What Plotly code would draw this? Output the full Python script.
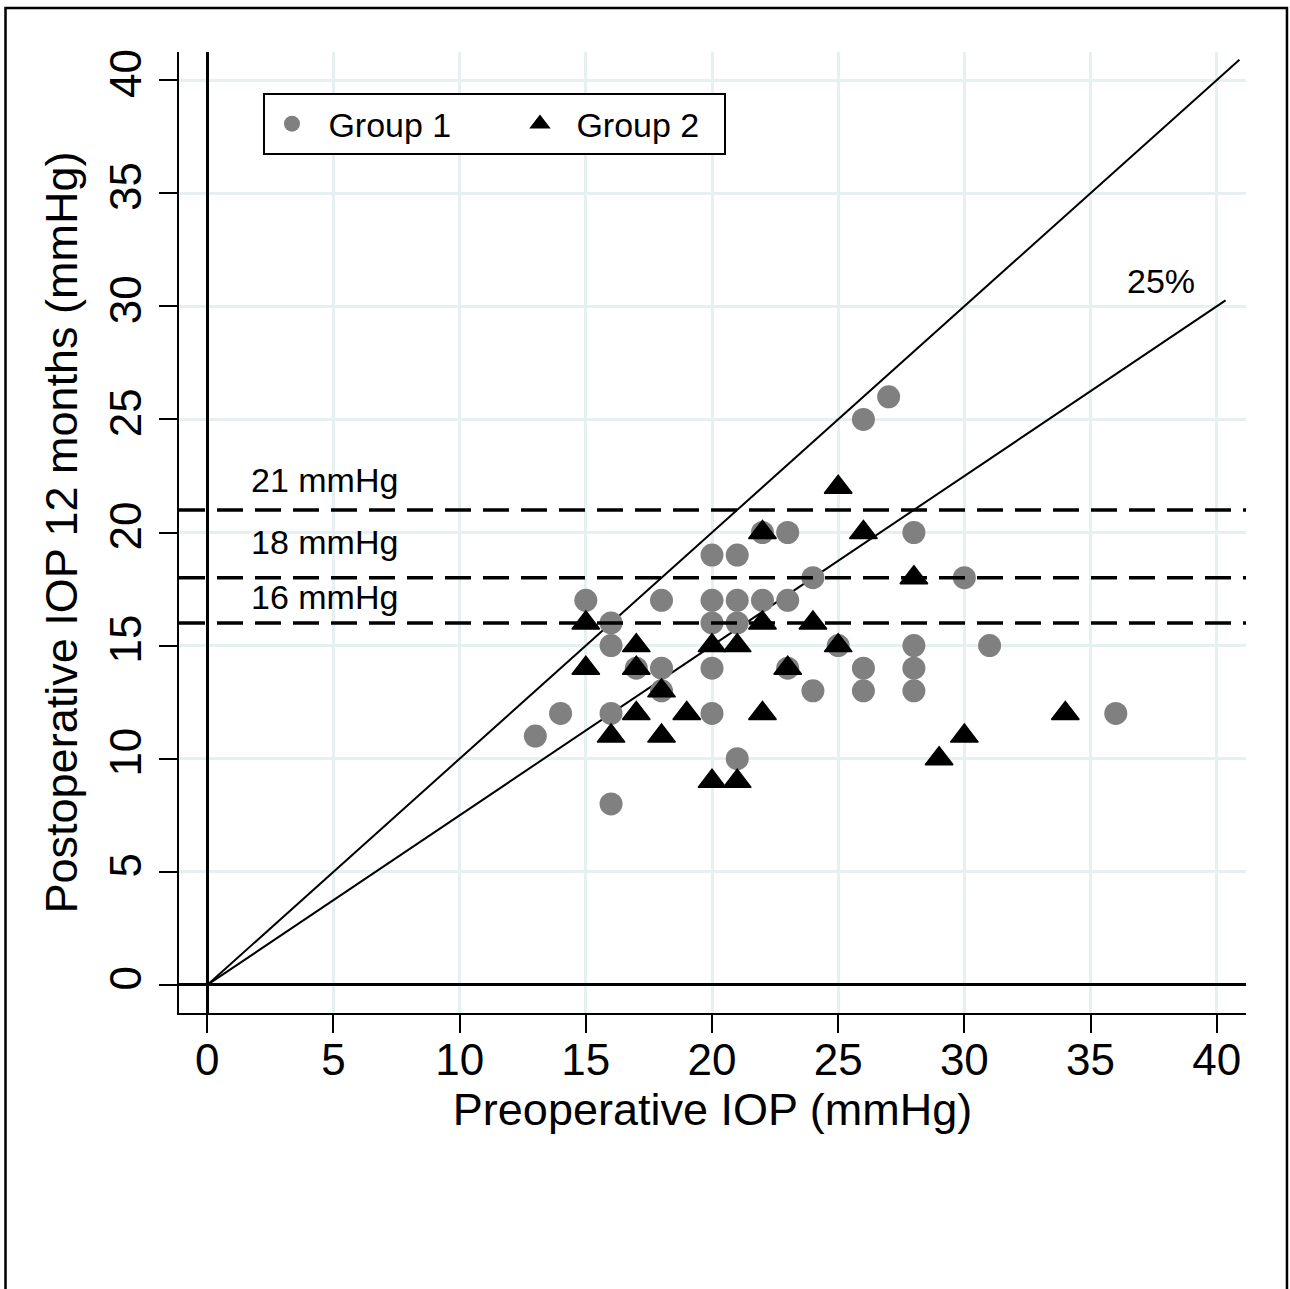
import plotly.graph_objects as go

# ---------------- data ----------------
g1_pre = [13, 14, 15, 16, 16, 16, 16, 17, 18, 18, 18, 20, 20, 20, 20, 20,
          21, 21, 21, 21, 22, 22, 23, 23, 23, 24, 24, 25, 26, 26, 26, 27,
          28, 28, 28, 28, 30, 31, 36]
g1_post = [11, 12, 17, 16, 15, 12, 8, 14, 17, 14, 13, 19, 17, 16, 14, 12,
           19, 17, 16, 10, 20, 17, 20, 17, 14, 18, 13, 15, 25, 14, 13, 26,
           20, 15, 14, 13, 18, 15, 12]

g2_pre = [15, 15, 16, 17, 17, 17, 18, 18, 19, 20, 20, 21, 21, 22, 22, 22,
          23, 24, 25, 25, 26, 28, 29, 30, 34]
g2_post = [16, 14, 11, 15, 14, 12, 13, 11, 12, 15, 9, 15, 9, 20, 16, 12,
           14, 16, 22, 15, 20, 18, 10, 11, 12]

# reference lines (equality line and 25% reduction line)
eq_x = [0, 40.9]
eq_y = [0, 40.9]
red_x = [0, 40.35]
red_y = [0, 30.26]

thresholds = [21, 18, 16]
threshold_labels = ["21 mmHg", "18 mmHg", "16 mmHg"]
threshold_label_y = [22.3, 19.6, 17.15]

x_ticks = [0, 5, 10, 15, 20, 25, 30, 35, 40]
y_ticks = [0, 5, 10, 15, 20, 25, 30, 35, 40]

FONT = "Liberation Sans, Arial, Helvetica, sans-serif"
GRID = "#e6f0f1"
NB = "\u00a0"

fig = go.Figure()

fig.add_trace(go.Scatter(x=eq_x, y=eq_y, mode="lines",
                         line=dict(color="black", width=2),
                         showlegend=False, hoverinfo="skip"))
fig.add_trace(go.Scatter(x=red_x, y=red_y, mode="lines",
                         line=dict(color="black", width=2),
                         showlegend=False, hoverinfo="skip"))

fig.add_trace(go.Scatter(x=g1_pre, y=g1_post, mode="markers",
                         name=NB + "Group 1" + NB * 6,
                         marker=dict(symbol="circle", size=23, color="#808080",
                                     line=dict(width=0))))
fig.add_trace(go.Scatter(x=g2_pre, y=g2_post, mode="markers",
                         name=NB + "Group 2" + NB * 2,
                         marker=dict(symbol="triangle-up", size=24, color="black",
                                     line=dict(width=1.5, color="black"))))

for t in thresholds:
    fig.add_shape(type="line", xref="paper", x0=0, x1=1, yref="y", y0=t, y1=t,
                  line=dict(color="black", width=3.5, dash="26px,12px"),
                  layer="above")

for lab, ly in zip(threshold_labels, threshold_label_y):
    fig.add_annotation(x=4.65, y=ly, text=lab, showarrow=False,
                       font=dict(family=FONT, size=34, color="black"))

fig.add_annotation(x=37.8, y=31.1, text="25%", showarrow=False,
                   font=dict(family=FONT, size=34, color="black"))

# outer frame
fig.add_shape(type="rect", xref="paper", yref="paper",
              x0=-0.1626, x1=1.0384, y0=-0.35, y1=1.0458,
              line=dict(color="black", width=2.5), layer="above")

fig.update_xaxes(range=[-1.12, 41.16], tickvals=x_ticks,
                 showgrid=True, gridcolor=GRID, gridwidth=3,
                 zeroline=True, zerolinecolor="black", zerolinewidth=3,
                 showline=True, linecolor="black", linewidth=2,
                 ticks="outside", ticklen=18, tickwidth=2, tickcolor="black",
                 ticklabelstandoff=-11,
                 tickfont=dict(family=FONT, size=44, color="black"),
                 title=dict(text="Preoperative IOP (mmHg)",
                            font=dict(family=FONT, size=45, color="black"),
                            standoff=4))
fig.update_yaxes(range=[-1.24, 41.24], tickvals=y_ticks, tickangle=-90,
                 showgrid=True, gridcolor=GRID, gridwidth=3,
                 zeroline=True, zerolinecolor="black", zerolinewidth=3,
                 showline=True, linecolor="black", linewidth=2,
                 ticks="outside", ticklen=18, tickwidth=2, tickcolor="black",
                 tickfont=dict(family=FONT, size=44, color="black"),
                 title=dict(text="Postoperative IOP 12 months (mmHg)",
                            font=dict(family=FONT, size=45, color="black"),
                            standoff=10))

fig.update_layout(
    width=1290, height=1289,
    margin=dict(l=179, r=44, t=52, b=276),
    paper_bgcolor="white", plot_bgcolor="white",
    font=dict(family=FONT, color="black"),
    legend=dict(orientation="h", x=0.0787, y=0.9573, xanchor="left", yanchor="top",
                bgcolor="white", bordercolor="black", borderwidth=2,
                font=dict(family=FONT, size=34, color="black"),
                itemwidth=44, itemsizing="trace"),
)

fig.write_html("out.html", config={"displayModeBar": False},
               post_script="document.body.style.margin='0';")
